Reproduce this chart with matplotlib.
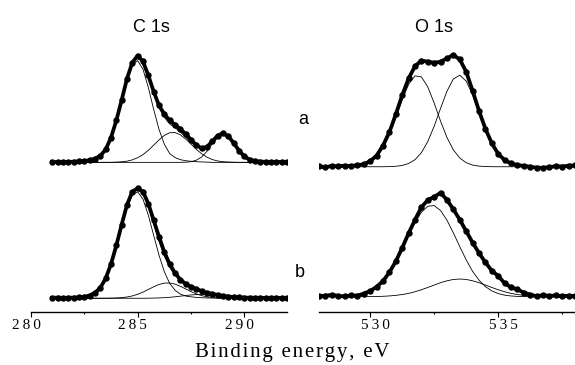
import numpy as np
import matplotlib
matplotlib.use('Agg')
from matplotlib import pyplot as plt
from matplotlib.transforms import ScaledTranslation

#%% Data (intensities in arbitrary units, baseline removed)

E_C = np.arange(281.0, 292.01, 0.25)   # C 1s energies, eV
E_O = np.arange(528.0, 538.01, 0.25)   # O 1s energies, eV

# C 1s, sample a
c1s_a_data = [0.5, 0.3, 0.5, 0.4, 0.6, 0.8, 1.2, 2.0, 3.5, 6, 12, 23,
              39, 58, 78, 93, 99.5, 94, 81, 66, 53, 45, 39, 35,
              31, 26.5, 21, 16, 13, 14.5, 19.5, 25, 27, 24.5, 18, 11,
              5.5, 2.5, 1.2, 0.7, 0.5, 0.4, 0.5, 0.3, 0.4]
c1s_a_p1 = [0, 0, 0, 0, 0.1, 0.3, 0.6, 1.2, 2.5, 5.0, 11.1, 21.9,
            37.8, 57.6, 77.3, 91.2, 94.8, 86.7, 69.8, 49.4, 30.8, 16.9, 8.2, 4.5,
            2.5, 1.5, 1.0, 0.6, 0.4, 0.2, 0, 0, 0, 0, 0, 0,
            0, 0, 0, 0, 0, 0, 0, 0, 0]
c1s_a_p2 = [0, 0, 0, 0, 0, 0, 0, 0, 0, 0, 0, 0,
            0.2, 0.5, 1.1, 2.3, 4.3, 7.2, 11.2, 16.0, 20.9, 25.1, 27.6, 27.8,
            25.7, 21.8, 17.0, 12.1, 8.0, 4.8, 2.6, 1.3, 0.6, 0.3, 0.1, 0,
            0, 0, 0, 0, 0, 0, 0, 0, 0]
c1s_a_p3 = [0, 0, 0, 0, 0, 0, 0, 0, 0, 0, 0, 0,
            0, 0, 0, 0, 0, 0, 0, 0, 0, 0, 0, 0,
            0, 0.15, 0.6, 2.0, 5.0, 10.3, 17.2, 23.5, 26, 23.5, 17.2, 10.3,
            5.0, 2.0, 0.6, 0.15, 0, 0, 0, 0, 0]

# C 1s, sample b
c1s_b_data = [0.4, 0.6, 0.3, 0.5, 0.6, 0.8, 1.3, 2.5, 5, 9.5, 18, 31,
              48, 67, 85, 97, 100, 97, 86, 71, 56, 42, 31, 23,
              17, 13, 10.5, 8.5, 6.5, 5, 4, 3, 2.2, 1.6, 1.1, 0.8,
              0.6, 0.5, 0.4, 0.5, 0.3, 0.4, 0.5, 0.3, 0.4]
c1s_b_p1 = [0, 0, 0, 0, 0.4, 0.6, 1.0, 2.2, 4.6, 9.0, 17.2, 29.7,
            46.2, 64.8, 82.1, 93.9, 96.8, 90.1, 75.6, 57.3, 39.2, 24.2, 13.5, 7.3,
            3.8, 2.0, 1.3, 0.8, 0.5, 0.3, 0.2, 0.1, 0, 0, 0, 0,
            0, 0, 0, 0, 0, 0, 0, 0, 0]
c1s_b_p2 = [0, 0, 0, 0, 0, 0, 0, 0, 0, 0, 0, 0.1,
            0.26, 0.6, 1.15, 2.1, 3.6, 5.6, 8.0, 10.4, 12.5, 13.8, 13.9, 12.9,
            10.9, 8.5, 6.1, 4.0, 2.4, 1.3, 0.66, 0.3, 0.13, 0, 0, 0,
            0, 0, 0, 0, 0, 0, 0, 0, 0]
c1s_b_p3 = [0, 0, 0, 0, 0, 0, 0, 0, 0, 0, 0, 0,
            0, 0, 0, 0, 0, 0, 0.07, 0.15, 0.3, 0.53, 0.87, 1.33,
            1.9, 2.5, 3.0, 3.37, 3.5, 3.37, 3.0, 2.5, 1.9, 1.33, 0.87, 0.53,
            0.3, 0.15, 0.07, 0, 0, 0, 0, 0, 0]

# O 1s, sample a
o1s_a_data = [0.5, -0.5, 0.8, 0.3, 1.0, 0.6, 1.5, 2.2, 5.0, 10, 19, 31,
              47, 64, 79, 90, 95, 94, 93, 94, 97, 100, 96, 85,
              68, 50, 34, 21, 11.5, 6, 3, 1.5, 0.8, 0, -0.8, -1.0,
              -0.3, 0.5, 0.2, 1.0, 1.2]
o1s_a_p1 = [0, 0, 0, 0, 0.1, 0.3, 0.8, 1.8, 4.2, 8.9, 16.9, 28.8,
            43.9, 60.0, 73.7, 81.3, 80.4, 71.4, 56.9, 40.7, 26.1, 15.0, 7.8, 3.6,
            1.5, 0.56, 0.2, 0.06, 0, 0, 0, 0, 0, 0, 0, 0,
            0, 0, 0, 0, 0]
o1s_a_p2 = [0, 0, 0, 0, 0, 0, 0, 0, 0, 0, 0, 0.14,
            0.42, 1.15, 2.9, 6.3, 12.6, 22.6, 36.3, 52.4, 67.7, 78.6, 81.9, 76.6,
            64.3, 48.5, 32.7, 19.8, 10.8, 5.3, 2.3, 0.9, 0.32, 0.1, 0, 0,
            0, 0, 0, 0, 0]

# O 1s, sample b
o1s_b_data = [0.5, 1.0, 1.8, 0.8, 0.3, 1.2, 1.0, 3.0, 5.5, 9.5, 15, 23.5,
              34, 47, 61, 74, 86, 93, 96, 100, 93, 84, 74, 63,
              52, 42, 33, 25, 20, 13, 9, 7, 4, 2, 0.5, 1.5,
              0.8, 1.2, 0.3, 1.0, 0.6]
o1s_b_p1 = [0, 0, 0, 0.1, 0.27, 0.6, 1.3, 2.6, 4.9, 8.7, 14.5, 22.6,
            33.0, 45.4, 58.7, 71.3, 81.2, 87.0, 87.6, 82.8, 73.5, 61.3, 48.1, 35.4,
            24.4, 15.9, 9.7, 5.6, 3.0, 1.5, 0.7, 0.3, 0.1, 0, 0, 0,
            0, 0, 0, 0, 0]
o1s_b_p2 = [0, 0, 0, 0, 0, 0, 0, 0, 0.1, 0.2, 0.4, 0.75,
            1.3, 2.1, 3.2, 4.8, 6.7, 8.9, 11.2, 13.5, 15.3, 16.6, 17, 16.6,
            15.3, 13.5, 11.2, 8.9, 6.7, 4.8, 3.2, 2.1, 1.3, 0.75, 0.4, 0.2,
            0.1, 0, 0, 0, 0]

C_TICKS = [280, 285, 290]
O_TICKS = [530, 535]

#%% Config

SERIF = ['Liberation Serif', 'DejaVu Serif']
SANS = ['Liberation Sans', 'DejaVu Sans']

def spaced(s, sp='\u200a'):
    # widen letter spacing a little, like the original figure
    return sp.join(s)

fig = plt.figure(figsize=(5.75, 3.65), dpi=100)

ax_ca = fig.add_axes([0.0539, 0.5205, 0.4452, 0.3699])
ax_oa = fig.add_axes([0.5548, 0.5205, 0.4452, 0.3699])
ax_cb = fig.add_axes([0.0539, 0.1452, 0.4452, 0.3753])
ax_ob = fig.add_axes([0.5548, 0.1452, 0.4452, 0.3753])

panels = [
    (ax_ca, E_C, c1s_a_data, [c1s_a_p1, c1s_a_p2, c1s_a_p3], True, (280, 292), (-11.8, 114.0)),
    (ax_cb, E_C, c1s_b_data, [c1s_b_p1, c1s_b_p2, c1s_b_p3], True, (280, 292), (-12.5, 112.1)),
    (ax_oa, E_O, o1s_a_data, [o1s_a_p1, o1s_a_p2], False, (528, 538), (-7.4, 113.4)),
    (ax_ob, E_O, o1s_b_data, [o1s_b_p1, o1s_b_p2], False, (528, 538), (-14.7, 117.0)),
]

for ax, e, data, comps, show_sum, xl, yl in panels:
    ax.plot(e, data, '-o', color='k', lw=2.7, ms=4.6, mew=0)
    for c in comps:
        ax.plot(e, c, color='k', lw=0.6)
    if show_sum:
        ax.plot(e, np.sum(comps, axis=0), color='k', lw=0.6)
    ax.set_xlim(*xl)
    ax.set_ylim(*yl)
    ax.set_yticks([])
    for s in ['top', 'left', 'right', 'bottom']:
        ax.spines[s].set_visible(False)
    ax.patch.set_alpha(0)

for ax in [ax_ca, ax_oa]:
    ax.set_xticks([])

for ax, ticks, minor, dx in [(ax_cb, C_TICKS, [282.5, 287.5], -5),
                             (ax_ob, O_TICKS, [532.5, 537.5], 5)]:
    ax.spines['bottom'].set_visible(True)
    ax.spines['bottom'].set_linewidth(1.0)
    ax.set_xticks(ticks)
    ax.set_xticks(minor, minor=True)
    ax.set_xticklabels([spaced(str(t), '\u2009') for t in ticks], family=SERIF, fontsize=11)
    ax.tick_params(which='major', direction='out', length=3.6, width=0.8, pad=1.5)
    ax.tick_params(which='minor', direction='out', length=1.5, width=0.8)
    off = ScaledTranslation(dx / 100., 0, fig.dpi_scale_trans)
    for lab in ax.get_xticklabels():
        lab.set_transform(lab.get_transform() + off)

fig.text(151 / 575, 0.913, 'C 1s', family=SANS, fontsize=13, ha='center', va='baseline')
fig.text(434 / 575, 0.913, 'O 1s', family=SANS, fontsize=13, ha='center', va='baseline')
fig.text(303 / 575, 0.660, 'a', family=SANS, fontsize=13, ha='center', va='baseline')
fig.text(300 / 575, 0.241, 'b', family=SANS, fontsize=13, ha='center', va='baseline')
fig.text(292 / 575, 0.022, spaced('Binding energy, eV'), family=SERIF, fontsize=15,
         ha='center', va='baseline')

plt.savefig('out.png', dpi=100)
